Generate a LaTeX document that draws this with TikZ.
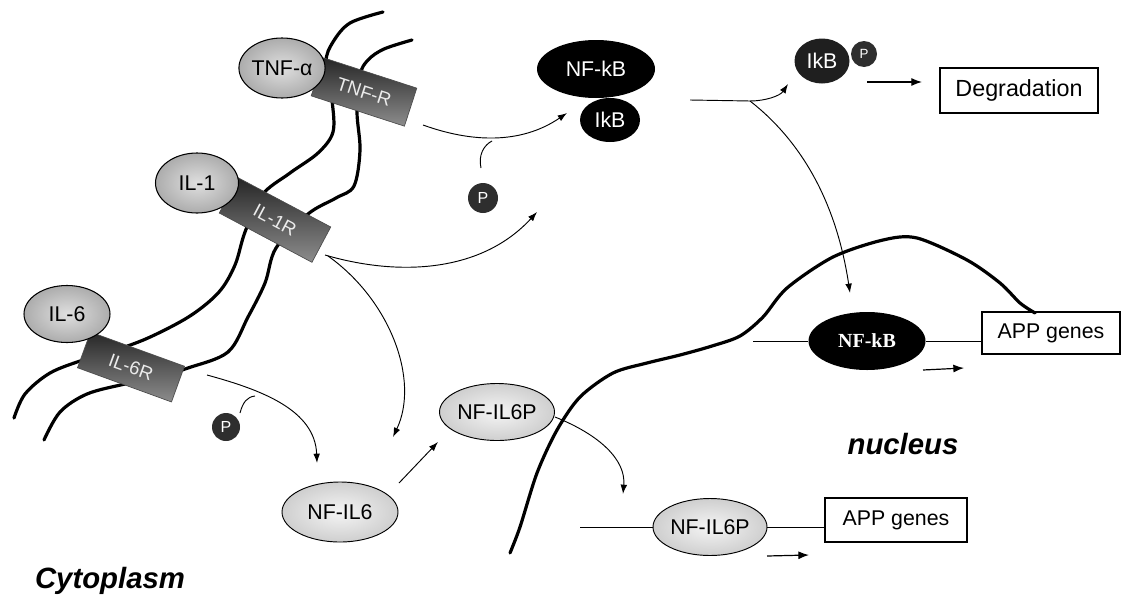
\documentclass[tikz,border=0pt]{standalone}
\usepackage{fontspec}
\setmainfont{Liberation Sans}
\newfontfamily\timesbf{Liberation Serif}
\usetikzlibrary{shapes.geometric,arrows.meta}
\begin{document}
\begin{tikzpicture}[x=0.75pt,y=-0.75pt,
  lblfont/.style={font=\fontsize{16}{18}\selectfont},
  ligand/.style={ellipse, draw=black, line width=0.8pt, inner sep=0pt, inner color=gray!25, outer color=gray!65, lblfont},
  receptor/.style={rectangle, draw=black!70, line width=0.5pt, inner sep=0pt, top color=black!85, bottom color=black!45, text=white!92!black, font=\fontsize{14}{16}\selectfont},
  nfil/.style={ellipse, draw=black, line width=0.7pt, inner sep=0pt, inner color=gray!8, outer color=gray!38, lblfont},
  darkell/.style={ellipse, fill=black, text=white, inner sep=0pt, lblfont},
  pcirc/.style={circle, fill=black!82, text=white, inner sep=0pt, font=\fontsize{12}{13}\selectfont},
  genebox/.style={rectangle, draw=black, line width=0.8pt, inner sep=0pt, lblfont},
  memb/.style={line width=2.4pt, line cap=round, line join=round},
  arr/.style={line width=0.7pt, -{Latex[length=7pt,width=5pt]}},
  bigarr/.style={line width=0.9pt, -{Latex[length=8pt,width=6pt]}},
  link/.style={line width=0.7pt},
  region/.style={font=\fontsize{22}{24}\selectfont\bfseries\itshape},
]
\useasboundingbox (0,0) rectangle (1123,603);

% ---- cell membrane (two lines) ----
\draw[memb] plot[smooth, tension=0.55] coordinates {
  (383,12) (350,23) (333,42) (326,62) (332,100) (333,132) (318,153) (290,173) (262,195)
  (245,232) (235,265) (219,292) (190,316) (148,338) (110,352) (83,360) (50,373) (25,394) (14,418)};
\draw[memb] plot[smooth, tension=0.55] coordinates {
  (412,40) (384,49) (368,60) (360,75) (357,112) (360,150) (354,186) (336,198) (308,214)
  (276,248) (265,283) (248,317) (228,352) (188,368) (155,378) (125,384) (87,394) (60,412) (44,440)};

% ---- receptors ----
\node[receptor, minimum width=73.5pt, minimum height=30pt, rotate=-18] (tnfr) at (364,92) {TNF-R};
\node[receptor, minimum width=78.75pt, minimum height=30pt, rotate=-28] (il1r) at (275,220) {IL-1R};
\node[receptor, minimum width=75pt, minimum height=28.5pt, rotate=-20] (il6r) at (131,367) {IL-6R};

% ---- ligands ----
\node[ligand, minimum width=63.75pt, minimum height=45pt] (tnfa) at (282,68) {TNF-α};
\node[ligand, minimum width=62.25pt, minimum height=45pt] (il1) at (197,183) {IL-1};
\node[ligand, minimum width=64.5pt, minimum height=42.75pt] (il6) at (67,314) {IL-6};

% ---- cytoplasmic complexes ----
\node[darkell, minimum width=88.5pt, minimum height=43.5pt] (nfkb) at (596,69) {NF-kB};
\node[darkell, minimum width=45pt, minimum height=33pt] (ikb) at (610,120) {IkB};
\node[pcirc, minimum size=22.5pt] (p1) at (483,198) {P};
\node[pcirc, minimum size=21pt] (p2) at (226,427) {P};
\node[darkell, fill=black!88, minimum width=41.25pt, minimum height=33.75pt] (ikbp) at (822,61) {IkB};
\node[pcirc, minimum width=19.5pt, minimum height=18pt, font=\fontsize{10}{11}\selectfont] (p3) at (864,54) {P};
\node[genebox, minimum width=118.5pt, minimum height=33.75pt, font=\fontsize{17.5}{19}\selectfont] (degr) at (1019,90.5) {Degradation};
\node[nfil, minimum width=87pt, minimum height=45pt] (nfil6) at (340,512) {NF-IL6};
\node[nfil, minimum width=86.25pt, minimum height=42.75pt] (nfil6p) at (497,412) {NF-IL6P};

% ---- nuclear membrane ----
\draw[memb] plot[smooth, tension=0.5] coordinates {
  (510,553) (520,527) (537,473) (557,430) (580,397) (613,373) (647,363) (680,355)
  (712,346) (740,336) (763,317) (787,288) (833,257) (883,240) (917,238) (967,260)
  (1000,283) (1020,303) (1035,313)};

% ---- nucleus ----
\node[darkell, minimum width=87.75pt, minimum height=43.5pt, font=\fontsize{15}{17}\timesbf\bfseries] (nfkbn) at (867,341) {NF-kB};
\node[genebox, minimum width=103.5pt, minimum height=31.5pt] (app1) at (1051,333) {APP genes};
\node[nfil, minimum width=85.5pt, minimum height=42.75pt] (nfil6pn) at (710,527) {NF-IL6P};
\node[genebox, minimum width=106.5pt, minimum height=33pt] (app2) at (896,520) {APP genes};
\node[region] (nucl) at (903,444) {nucleus};
\node[region] (cyto) at (110,581) {Cytoplasm};

% ---- coordinates for free connector ends ----
\coordinate (a1s) at (423,125);
\coordinate (a1e) at (567,113);
\coordinate (j1) at (492,141);
\coordinate (p1l) at (481,168);
\coordinate (a2s) at (325,255);
\coordinate (a2e) at (537,212);
\coordinate (a3s) at (328,256);
\coordinate (a3e) at (393,437);
\coordinate (a4s) at (207,375);
\coordinate (a4e) at (317,463);
\coordinate (j2) at (255,396);
\coordinate (p2l) at (240,413);
\coordinate (a5s) at (399,483);
\coordinate (a5e) at (438,442);
\coordinate (a6s) at (555,417);
\coordinate (a6e) at (623,494);
\coordinate (a7s) at (690,100);
\coordinate (br) at (750,101);
\coordinate (a7e) at (788,84);
\coordinate (a8e) at (850,293);
\coordinate (a9s) at (867,82);
\coordinate (a9e) at (922,82);
\coordinate (l1s) at (753,341);
\coordinate (l2s) at (580,527);
\coordinate (t1s) at (923,370);
\coordinate (t1e) at (964,368);
\coordinate (t2s) at (767,556);
\coordinate (t2e) at (809,555);

% ---- cytoplasmic arrows ----
\draw[arr] (a1s) .. controls (470,142) and (520,145) .. (a1e);
\draw[link] (p1l) .. controls (478,155) and (484,145) .. (j1);
\draw[arr] (a2s) .. controls (400,277) and (482,272) .. (a2e);
\draw[arr] (a3s) .. controls (390,300) and (420,380) .. (a3e);
\draw[arr] (a4s) .. controls (262,390) and (315,410) .. (a4e);
\draw[link] (p2l) .. controls (243,402) and (247,397) .. (j2);
\draw[arr] (a5s) -- (a5e);
\draw[arr] (a6s) .. controls (600,435) and (626,460) .. (a6e);
\draw[link] (a7s) -- (br);
\draw[arr] (br) .. controls (765,101) and (780,96) .. (a7e);
\draw[arr] (br) .. controls (800,140) and (836,200) .. (a8e);
\draw[bigarr] (a9s) -- (a9e);

% ---- nucleus connectors ----
\draw[line width=0.7pt] (l1s) -- (nfkbn.west);
\draw[line width=0.7pt] (nfkbn.east) -- (nfkbn.east -| app1.west);
\draw[line width=0.7pt] (l2s) -- (nfil6pn.west);
\draw[line width=0.7pt] (nfil6pn.east) -- (nfil6pn.east -| app2.west);
\draw[bigarr] (t1s) -- (t1e);
\draw[bigarr] (t2s) -- (t2e);
\end{tikzpicture}
\end{document}
